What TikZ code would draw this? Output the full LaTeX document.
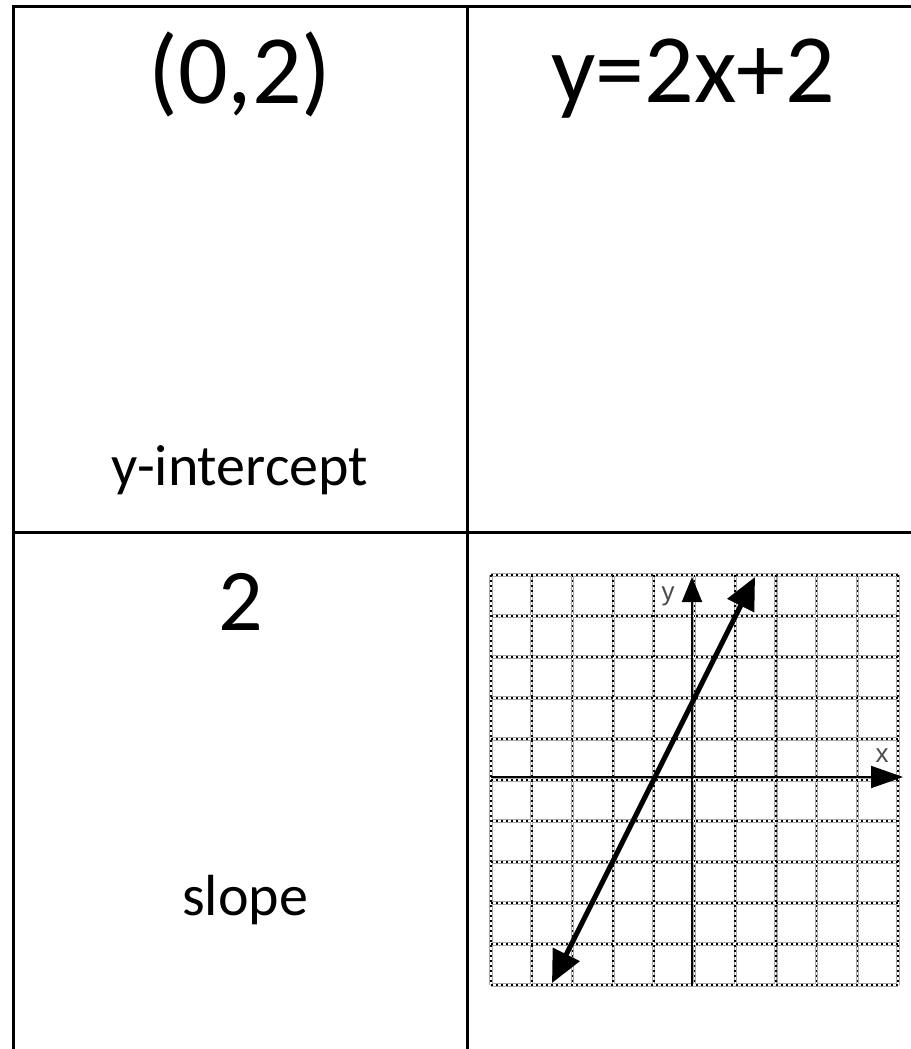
\documentclass[tikz,border=0pt]{standalone}
\usepackage{fontspec}
\setmainfont{Carlito}
\newfontfamily\axisfont{Liberation Sans}
\usetikzlibrary{arrows.meta}
\tikzset{
  frame/.style={line width=3pt, black, line cap=rect},
  gridbg/.style={line width=3.2pt, black!35},
  gridmid/.style={line width=1.1pt, white},
  griddot/.style={line width=1.6pt, black, dash pattern=on 1.8pt off 3.2pt},
  axisline/.style={line width=2pt, black},
  graphline/.style={line width=5pt, black},
  bigtext/.style={font=\fontsize{98}{98}\selectfont, anchor=base, inner sep=0pt},
  midtext/.style={font=\fontsize{88}{88}\selectfont, anchor=base, inner sep=0pt},
  smalltext/.style={font=\fontsize{58}{58}\selectfont, anchor=base, inner sep=0pt},
  axislabel/.style={font=\axisfont\fontsize{26}{26}\selectfont, text=black!70, inner sep=0pt}
}
\begin{document}
\begin{tikzpicture}[x=1pt,y=-1pt]
\useasboundingbox (0,0) rectangle (910,1049);
% frame lines
\coordinate (tl) at (13.5,7);
\coordinate (tr) at (910,7);
\coordinate (bl) at (13.5,1049);
\coordinate (tm) at (467,7);
\coordinate (bm) at (467,1049);
\coordinate (ml) at (13.5,532);
\coordinate (mr) at (910,532);
\draw[frame] (tr) -- (tl) -- (bl);
\draw[frame] (tm) -- (bm);
\draw[frame] (ml) -- (mr);
% grid
\foreach \i in {0,...,10} {
  \draw[gridbg] ({491+40.7*\i},575) -- ({491+40.7*\i},985);
  \draw[gridbg] (491,{575+41*\i}) -- (898,{575+41*\i});
}
\foreach \i in {0,...,10} {
  \draw[gridmid] ({491+40.7*\i},575) -- ({491+40.7*\i},985);
  \draw[gridmid] (491,{575+41*\i}) -- (898,{575+41*\i});
}
\foreach \i in {0,...,10} {
  \draw[griddot] ({491+40.7*\i},575) -- ({491+40.7*\i},985);
  \draw[griddot] (491,{575+41*\i}) -- (898,{575+41*\i});
}
% axes
\coordinate (yb) at (692,985);
\coordinate (yt) at (692,577);
\coordinate (xl) at (491,777);
\coordinate (xr) at (903,777);
\draw[axisline, -{Triangle[length=25pt,width=20pt]}] (yb) -- (yt);
\draw[axisline, -{Triangle[length=32pt,width=22pt]}] (xl) -- (xr);
\node[axislabel] (ylab) at (668,596) {y};
\node[axislabel] (xlab) at (882,756) {x};
% graph line y=2x+2
\coordinate (la) at (552,983);
\coordinate (lb) at (755,577);
\draw[graphline, {Triangle[length=32pt,width=29pt]}-{Triangle[length=32pt,width=29pt]}] (la) -- (lb);
% texts
\node[bigtext] (pt) at (240,103) {(0,2)};
\node[bigtext] (eq) at (693,102) {y=2x+2};
\node[smalltext] (yint) at (240,485) {y-intercept};
\node[midtext] (sl) at (241,630) {2};
\node[smalltext] (slope) at (245,915) {slope};
\end{tikzpicture}
\end{document}
